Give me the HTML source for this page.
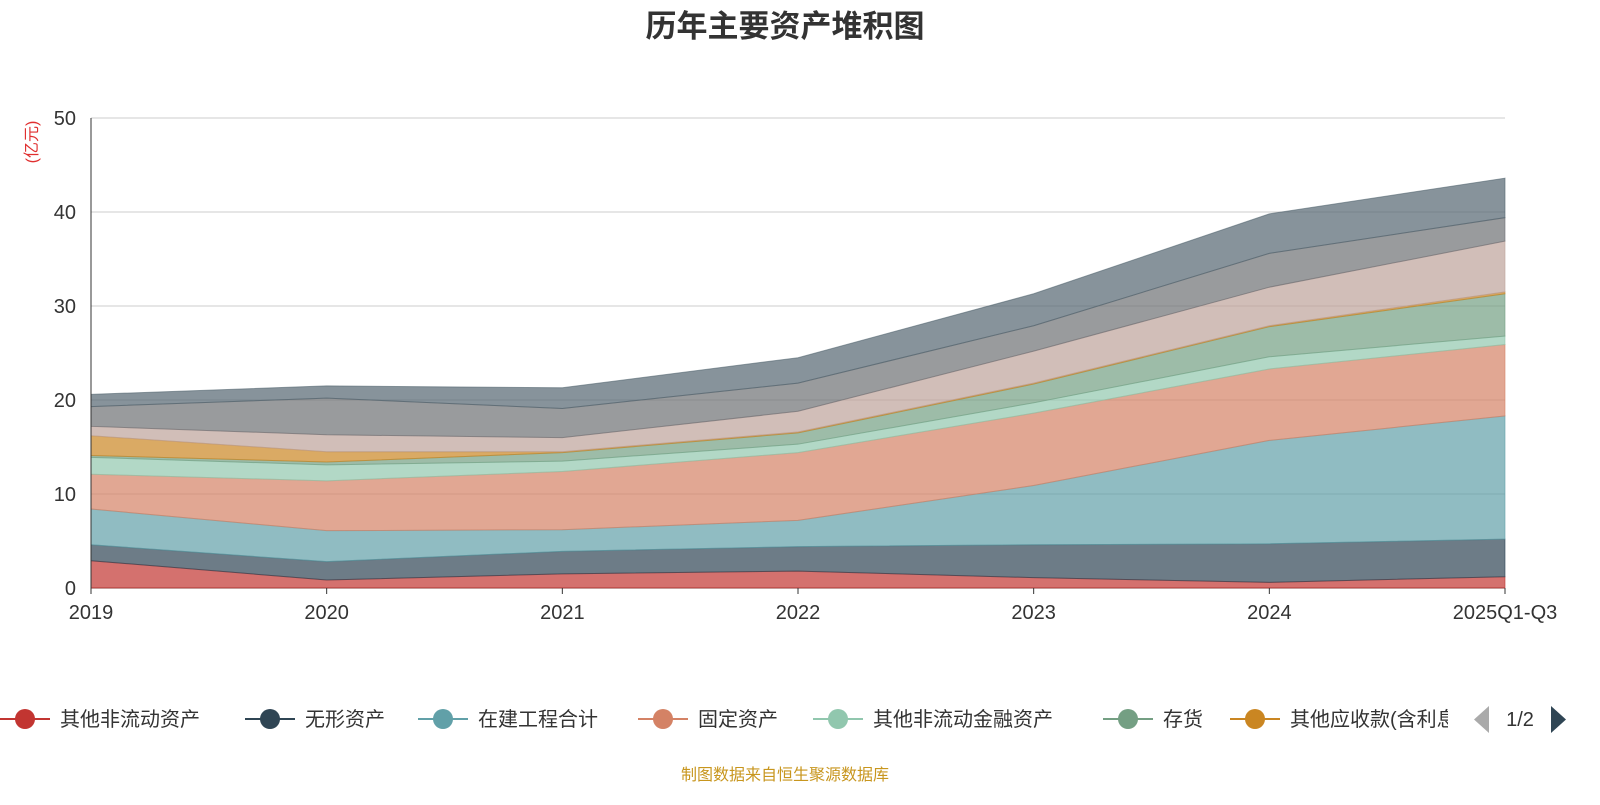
<!DOCTYPE html>
<html><head><meta charset="utf-8"><style>
body{margin:0;background:#fff;width:1600px;height:800px;overflow:hidden;font-family:"Liberation Sans","Noto Sans CJK SC",sans-serif}
</style></head><body>
<svg id="c" width="1600" height="800" xmlns="http://www.w3.org/2000/svg">
<text x="785" y="37" text-anchor="middle" font-size="31" font-weight="bold" fill="#333" font-family="Liberation Sans,Noto Sans CJK SC,sans-serif">历年主要资产堆积图</text>
<text transform="translate(37,142) rotate(-90)" text-anchor="middle" font-size="16" fill="#e03030" font-family="Liberation Sans,Noto Sans CJK SC,sans-serif">(亿元)</text>
<g id="grid"></g><g id="areas"></g><g id="axes"></g><g id="legend"></g>
<text x="785" y="780" text-anchor="middle" font-size="16" fill="#c8961e" font-family="Liberation Sans,Noto Sans CJK SC,sans-serif">制图数据来自恒生聚源数据库</text>
</svg>
<script>
const categories=["2019","2020","2021","2022","2023","2024","2025Q1-Q3"];
const seriesNames=["其他非流动资产","无形资产","在建工程合计","固定资产","其他非流动金融资产","存货","其他应收款(含利息和股利)","使用权资产","长期股权投资","货币资金"];
const sOther=[2.9,0.85,1.5,1.8,1.1,0.6,1.2];
const sIntangible=[1.7,1.95,2.4,2.6,3.5,4.1,4.0];
const sCip=[3.8,3.3,2.3,2.8,6.3,11.0,13.1];
const sFixed=[3.7,5.3,6.2,7.2,7.7,7.6,7.6];
const sFin=[1.8,1.7,1.1,0.9,1.1,1.3,0.9];
const sInv=[0.2,0.3,0.9,1.2,2.0,3.2,4.5];
const sRecv=[2.1,1.1,0.1,0.1,0.1,0.1,0.2];
const sS8=[1.0,1.8,1.5,2.2,3.4,4.1,5.4];
const sS9=[2.1,3.9,3.1,3.0,2.7,3.6,2.5];
const sS10=[1.3,1.3,2.2,2.7,3.4,4.2,4.2];
const yTicks=[0,10,20,30,40,50];
const series=[sOther,sIntangible,sCip,sFixed,sFin,sInv,sRecv,sS8,sS9,sS10];
const colors=["#c23531","#2f4554","#61a0a8","#d48265","#91c7ae","#749f83","#ca8622","#bda29a","#6e7074","#546570"];
const NS="http://www.w3.org/2000/svg";
const X0=91,X1=1505,Y0=588,Y1=118;
const x=i=>X0+(X1-X0)*i/(categories.length-1);
const y=v=>Y0-(Y0-Y1)*v/50;
function mk(t,a,p){const e=document.createElementNS(NS,t);for(const k in a)e.setAttribute(k,a[k]);p.appendChild(e);return e;}
const grid=document.getElementById('grid'),axes=document.getElementById('axes'),areas=document.getElementById('areas'),leg=document.getElementById('legend');
yTicks.forEach(v=>{
 const l=mk('line',{x1:X0,x2:X1,y1:y(v),y2:y(v),stroke:v?'#ccc':'#333','stroke-width':1},grid);
 
 
 const t=mk('text',{x:76,y:y(v)+7,'text-anchor':'end','font-size':20,fill:'#333'},axes);t.textContent=v;
 
 
});
const ya=mk('line',{x1:X0,x2:X0,y1:Y1,y2:Y0,stroke:'#333'},axes);


categories.forEach((c,i)=>{
 mk('line',{x1:x(i),x2:x(i),y1:Y0,y2:Y0+6,stroke:'#333'},axes);
 const t=mk('text',{x:x(i),y:619,'text-anchor':'middle','font-size':20,fill:'#333'},axes);t.textContent=c;
 
 
});
let cum=categories.map(()=>0);
series.forEach((s,k)=>{
 const lo=cum.slice();cum=cum.map((v,i)=>v+s[i]);
 let d='M'+cum.map((v,i)=>x(i)+','+y(v)).join('L');
 for(let i=lo.length-1;i>=0;i--)d+='L'+x(i)+','+y(lo[i]);
 const p=mk('path',{d:d+'Z',fill:colors[k],'fill-opacity':0.7,stroke:colors[k],'stroke-width':1,'stroke-opacity':0.6},areas);
 
 
});
const lx=[0,245,418,638,813,1103,1230];
lx.forEach((px,k)=>{
 const g=mk('g',{},leg);
 
 
 mk('line',{x1:px,x2:px+50,y1:719,y2:719,stroke:colors[k],'stroke-width':2},g);
 mk('circle',{cx:px+25,cy:719,r:10,fill:colors[k]},g);
 const t=mk('text',{x:px+60,y:726,'font-size':20,fill:'#333'},g);t.textContent=seriesNames[k];
});
const clip=mk('clipPath',{id:'lc'},leg);mk('rect',{x:1220,y:690,width:228,height:60},clip);
leg.lastChild&&leg.lastChild.previousSibling&&leg.lastChild.previousSibling.setAttribute('clip-path','url(#lc)');
const pg=mk('g',{},leg);


mk('path',{d:'M1489,706 L1489,733 L1474,719.5Z',fill:'#aaa'},pg);
const pt=mk('text',{x:1520,y:726,'text-anchor':'middle','font-size':20,fill:'#333'},pg);pt.textContent='1/2';
mk('path',{d:'M1551,706 L1551,733 L1566,719.5Z',fill:'#2f4554'},pg);
</script>
</body></html>
